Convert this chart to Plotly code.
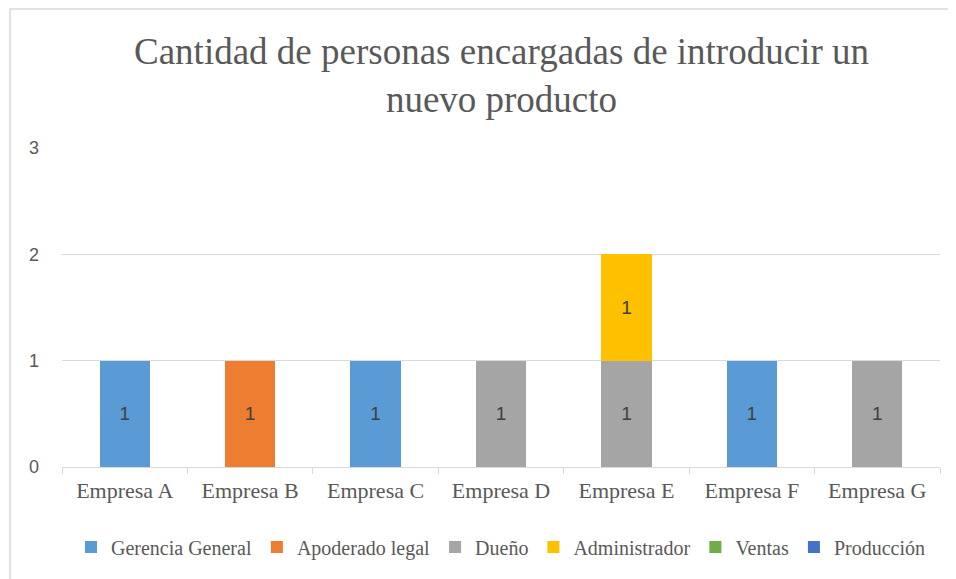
import plotly.graph_objects as go

categories = ["Empresa A", "Empresa B", "Empresa C", "Empresa D", "Empresa E", "Empresa F", "Empresa G"]
gerencia_general = [1, 0, 1, 0, 0, 1, 0]
apoderado_legal = [0, 1, 0, 0, 0, 0, 0]
dueno = [0, 0, 0, 1, 1, 0, 1]
administrador = [0, 0, 0, 0, 1, 0, 0]
ventas = [0, 0, 0, 0, 0, 0, 0]
produccion = [0, 0, 0, 0, 0, 0, 0]

series = [
    ("Gerencia General", gerencia_general, "#5B9BD5"),
    ("Apoderado legal", apoderado_legal, "#ED7D31"),
    ("Dueño", dueno, "#A5A5A5"),
    ("Administrador", administrador, "#FFC000"),
    ("Ventas", ventas, "#70AD47"),
    ("Producción", produccion, "#4472C4"),
]

SERIF = "Liberation Serif, Times New Roman, serif"
SANS = "Liberation Sans, Arial, sans-serif"

fig = go.Figure()
for name, vals, color in series:
    fig.add_trace(go.Bar(
        name=name, x=categories, y=vals,
        marker=dict(color=color, line=dict(width=0)),
        text=[str(v) if v else "" for v in vals],
        textposition="inside", insidetextanchor="middle",
        textfont=dict(family=SANS, size=19, color="#404040"),
        hoverinfo="skip",
    ))

# page body has an 8px offset; figure covers the visible 948x571 area
W, H = 948, 571
L, R, T, B = 54, 16, 140, 112
pw, ph = W - L - R, H - T - B

fig.update_layout(
    width=W, height=H,
    barmode="stack", bargap=0.6,
    paper_bgcolor="white", plot_bgcolor="white",
    margin=dict(l=L, r=R, t=T, b=B, autoexpand=False),
    showlegend=True,
    legend=dict(
        orientation="h", traceorder="normal",
        x=0.5, xanchor="center", y=-(547 - 8 - (H - B)) / ph, yanchor="middle",
        font=dict(family=SERIF, size=20, color="#595959"),
        bgcolor="rgba(0,0,0,0)",
        itemwidth=30, tracegroupgap=0,
    ),
    annotations=[dict(
        text="Cantidad de personas encargadas de introducir un<br>nuevo producto",
        xref="paper", yref="paper", x=0.5, xanchor="center",
        y=(H - B - 67) / ph, yanchor="middle", showarrow=False,
        font=dict(family=SERIF, size=37, color="#595959"),
    )],
    shapes=[dict(
        type="rect", xref="paper", yref="paper",
        x0=(2 - L) / pw, x1=1.2, y0=-0.5, y1=(H - B - 1) / ph,
        line=dict(color="#D9D9D9", width=1.5), fillcolor="rgba(0,0,0,0)", layer="below",
    )],
)

fig.update_xaxes(
    type="category", showgrid=False, automargin=False,
    showline=True, linecolor="#D9D9D9", linewidth=1,
    ticks="outside", tickson="boundaries", ticklen=6, tickcolor="#D9D9D9",
    ticklabelstandoff=4,
    tickfont=dict(family=SERIF, size=22, color="#595959"),
)
fig.update_yaxes(
    range=[0, 3], dtick=1, showgrid=True, gridcolor="#D9D9D9", gridwidth=1,
    showline=False, zeroline=False, ticks="", ticklabelstandoff=22, automargin=False,
    tickfont=dict(family=SANS, size=18, color="#595959"),
)

fig.write_html("out.html")
